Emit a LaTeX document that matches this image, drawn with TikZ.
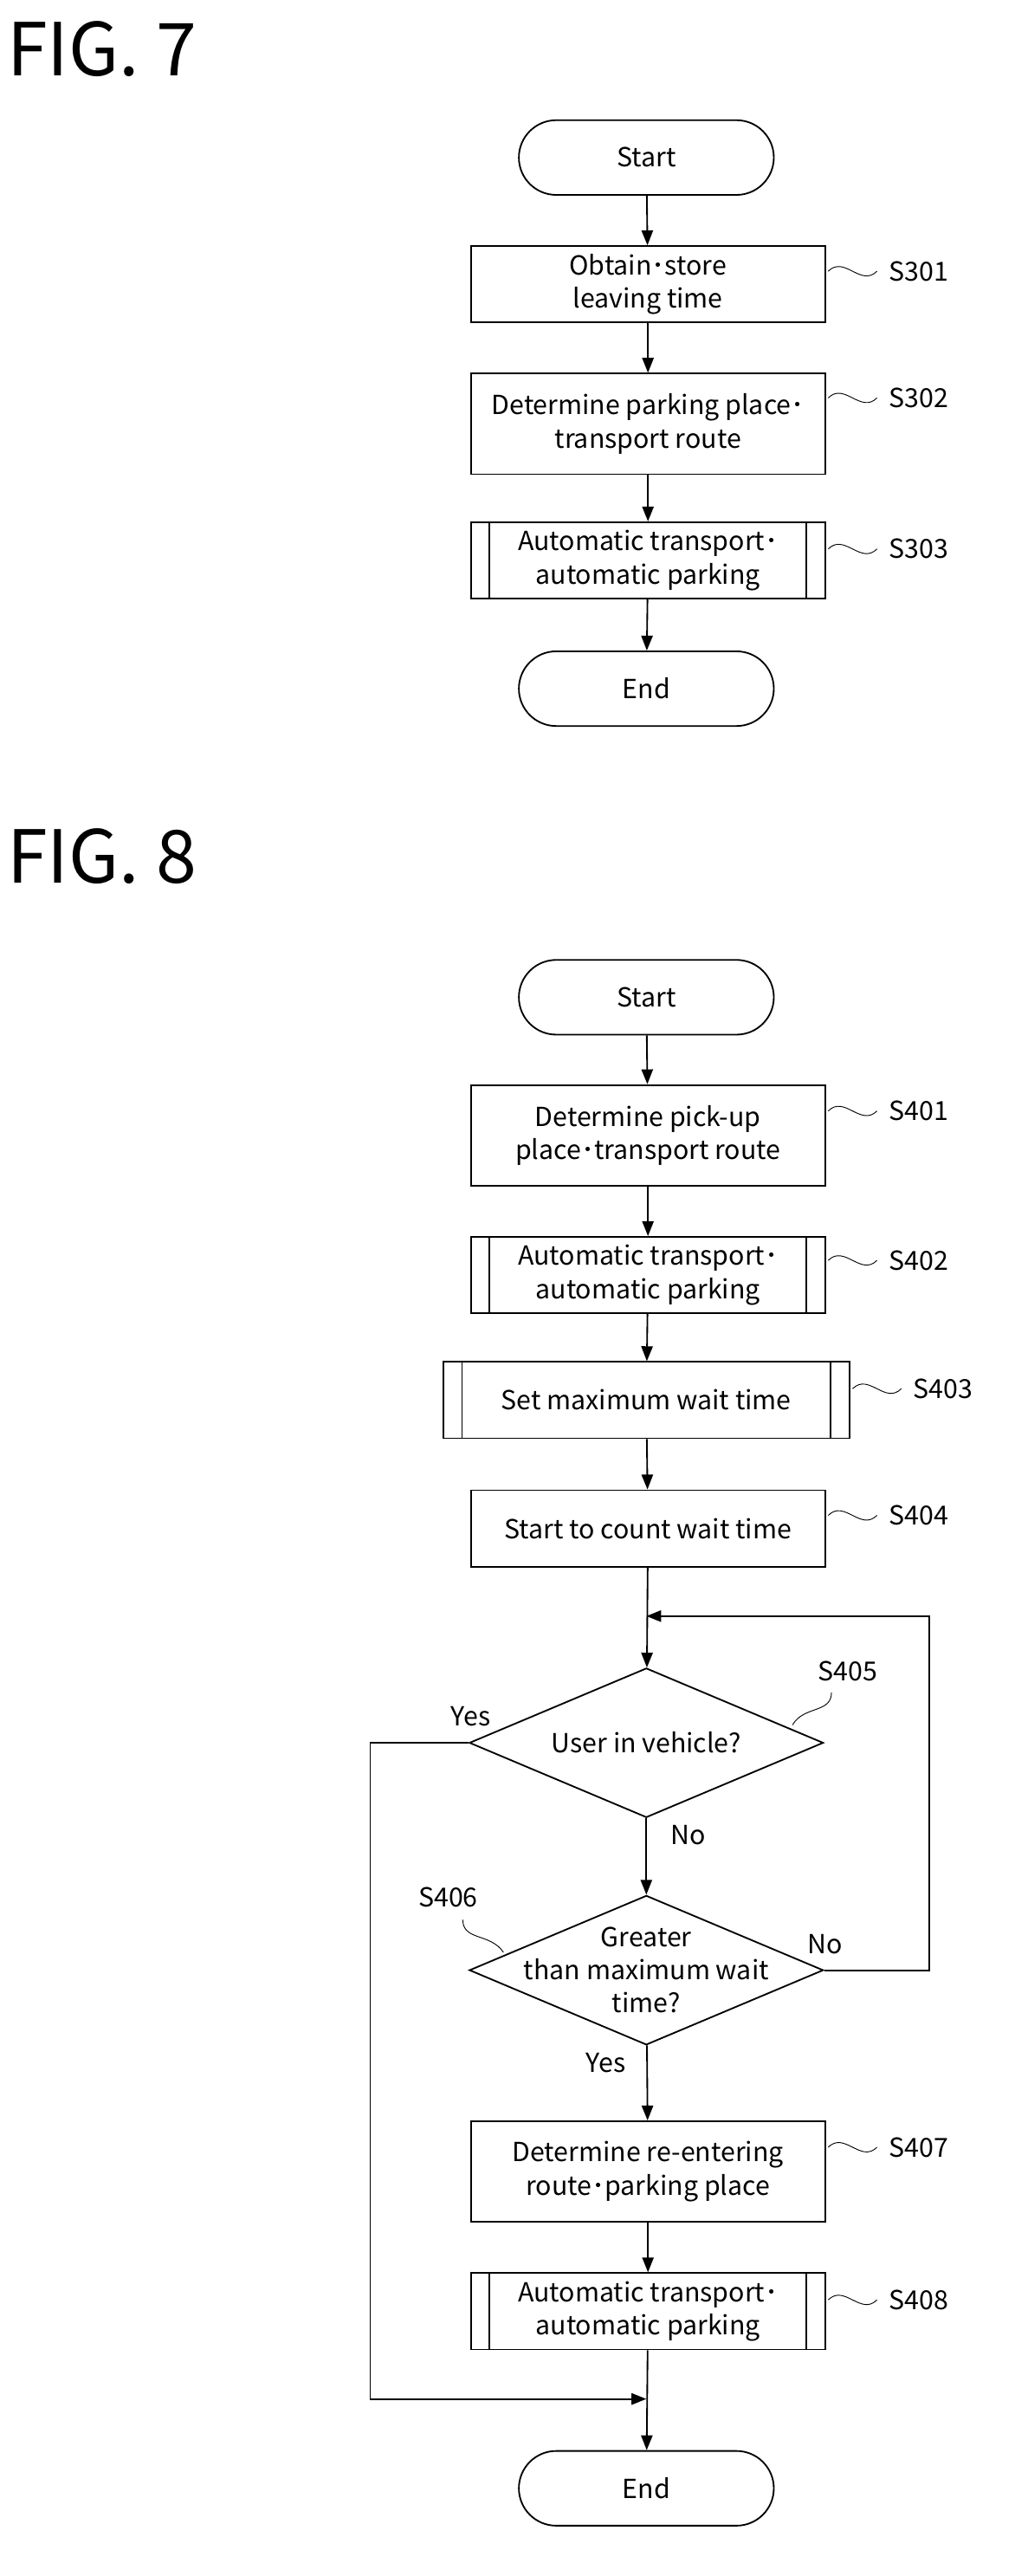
\documentclass[tikz,border=0pt]{standalone}
\usepackage{fontspec}
\setmainfont{Noto Sans CJK JP}
\usetikzlibrary{positioning,arrows.meta,shapes.geometric}

\tikzset{
  base/.style={draw, line width=1.4pt, font=\fontsize{23}{29}\selectfont, align=center},
  term/.style={base, rounded corners=1.15cm, minimum width=7.85cm, minimum height=2.3cm},
  proc/.style={base, minimum width=10.9cm, minimum height=2.35cm},
  tall/.style={proc, minimum height=3.1cm},
  dec/.style={draw, line width=1.4pt, diamond, minimum width=10.9cm, minimum height=4.6cm, inner sep=0pt},
  lab/.style={font=\fontsize{23}{29}\selectfont},
  fig/.style={font=\fontsize{64}{72}\selectfont, anchor=west},
  arr/.style={line width=1.4pt, -{Triangle[length=13pt,width=10pt]}},
  line/.style={line width=1.4pt},
  wave/.style={line width=0.7pt}
}
\newcommand{\subr}[2][0.6cm]{%
  \draw[line] ([xshift=#1]#2.north west) -- ([xshift=#1]#2.south west);
  \draw[line] ([xshift=-#1]#2.north east) -- ([xshift=-#1]#2.south east);}

\begin{document}
\begin{tikzpicture}[x=0.05cm, y=-0.05cm]
  \useasboundingbox (0,0) rectangle (625,1586);

  % FIG. 7
  \node[fig] (fig7) at (2,30) {FIG. 7};
  \node[term] (start7) at (398,97) {Start};
  \node[proc] (s301) at (399,175) {Obtain･store\\leaving time};
  \node[tall] (s302) at (399,261) {Determine parking place･\\transport route};
  \node[proc] (s303) at (399,345) {Automatic transport･\\automatic parking};
  \subr{s303}
  \node[term] (end7) at (398,424) {End};

  \draw[arr] (start7) -- (s301);
  \draw[arr] (s301) -- (s302);
  \draw[arr] (s302) -- (s303);
  \draw[arr] (s303) -- (end7);

  % step labels
  \draw[wave] (510,167) .. controls (520,157) and (530,177) .. (540,167);
  \node[lab, anchor=west] (l301) at (545,167) {S301};
  \draw[wave] (510,245) .. controls (520,235) and (530,255) .. (540,245);
  \node[lab, anchor=west] (l302) at (545,245) {S302};
  \draw[wave] (510,338) .. controls (520,328) and (530,348) .. (540,338);
  \node[lab, anchor=west] (l303) at (545,338) {S303};

  % FIG. 8
  \node[fig] (fig8) at (2,527) {FIG. 8};
  \node[term] (start8) at (398,614) {Start};
  \node[tall] (s401) at (399,699) {Determine pick-up\\place･transport route};
  \node[proc] (s402) at (399,785) {Automatic transport･\\automatic parking};
  \subr{s402}
  \node[proc, minimum width=12.5cm] (s403) at (398,862) {Set maximum wait time};
  \subr{s403}
  \node[proc] (s404) at (399,941) {Start to count wait time};

  \coordinate (j405) at (398,995);
  \node[dec] (d405) at (398,1073) {};
  \node[lab] (t405) at (398,1073) {User in vehicle?};
  \node[dec] (d406) at (398,1213) {};
  \node[lab, align=center] (t406) at (398,1213) {Greater\\than maximum wait\\time?};
  \node[tall] (s407) at (399,1337) {Determine re-entering\\route･parking place};
  \node[proc] (s408) at (399,1423) {Automatic transport･\\automatic parking};
  \subr{s408}
  \coordinate (j408) at (398,1477);
  \node[term] (end8) at (398,1532) {End};

  \coordinate (loopR) at (572,995);
  \coordinate (yesL) at (228,1477);

  \draw[arr] (start8) -- (s401);
  \draw[arr] (s401) -- (s402);
  \draw[arr] (s402) -- (s403);
  \draw[arr] (s403) -- (s404);
  \draw[arr] (s404) -- (d405);
  \draw[arr] (d405) -- (d406);
  \draw[arr] (d406) -- (s407);
  \draw[arr] (s407) -- (s408);
  \draw[arr] (s408) -- (end8);
  \draw[arr] (d406.east) -| (loopR) -- (j405);
  \draw[arr] (d405.west) -| (yesL) -- (j408);

  \node[lab] (y405) at (290,1057) {Yes};
  \node[lab] (n405) at (424,1130) {No};
  \node[lab] (n406) at (508,1197) {No};
  \node[lab] (y406) at (373,1270) {Yes};

  \draw[wave] (510,684) .. controls (520,674) and (530,694) .. (540,684);
  \node[lab, anchor=west] (l401) at (545,684) {S401};
  \draw[wave] (510,776) .. controls (520,766) and (530,786) .. (540,776);
  \node[lab, anchor=west] (l402) at (545,776) {S402};
  \draw[wave] (525,855) .. controls (535,845) and (545,865) .. (555,855);
  \node[lab, anchor=west] (l403) at (560,855) {S403};
  \draw[wave] (510,933) .. controls (520,923) and (530,943) .. (540,933);
  \node[lab, anchor=west] (l404) at (545,933) {S404};
  \node[lab] (l405) at (522,1029) {S405};
  \draw[wave] (512,1042) .. controls (512,1055) and (495,1050) .. (488,1062);
  \node[lab] (l406) at (276,1168) {S406};
  \draw[wave] (285,1182) .. controls (285,1195) and (302,1190) .. (310,1202);
  \draw[wave] (510,1322) .. controls (520,1312) and (530,1332) .. (540,1322);
  \node[lab, anchor=west] (l407) at (545,1322) {S407};
  \draw[wave] (510,1416) .. controls (520,1406) and (530,1426) .. (540,1416);
  \node[lab, anchor=west] (l408) at (545,1416) {S408};
\end{tikzpicture}
\end{document}
